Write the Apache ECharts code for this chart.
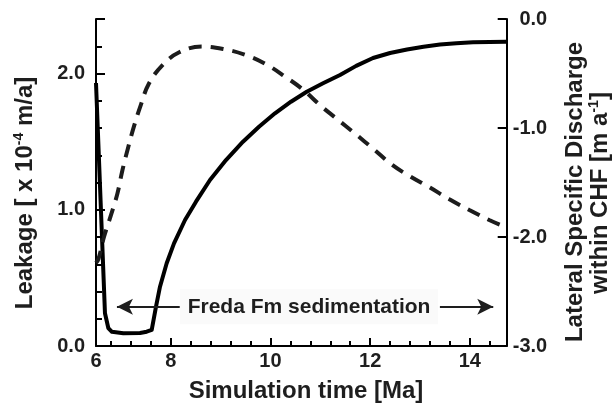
<!DOCTYPE html>
<html>
<head>
<meta charset="utf-8">
<script src="https://cdn.jsdelivr.net/npm/echarts@6/dist/echarts.min.js"></script>
<style>
  html, body { margin: 0; padding: 0; background: #ffffff; }
  #chart { width: 613px; height: 403px; }
</style>
</head>
<body>
<div id="chart"></div>
<script>
// Leakage through the aquitard (left axis, x 10^-4 m/a), dashed curve
const leakageTime = [6.5, 6.55, 6.66, 6.8, 6.93, 7.03, 7.14, 7.26, 7.4, 7.56, 7.83, 8.17, 8.62,
  9.05, 9.49, 9.92, 10.31, 10.66, 11.0, 11.33, 11.7, 12.06, 12.43, 12.8, 13.2, 13.59, 14.0, 14.4, 14.74];
const leakage = [0.61, 0.64, 0.80, 0.96, 1.12, 1.29, 1.45, 1.61, 1.77, 1.925, 2.06, 2.156, 2.198,
  2.18, 2.137, 2.066, 1.973, 1.88, 1.766, 1.668, 1.558, 1.448, 1.333, 1.245, 1.163, 1.077, 0.996, 0.923, 0.87];

// Lateral specific discharge within the CHF (right axis, m/a), solid curve
const dischargeTime = [6.5, 6.68, 6.747, 6.82, 7.048, 7.383, 7.517, 7.618, 7.704, 7.784, 7.918, 8.065,
  8.286, 8.506, 8.787, 9.108, 9.449, 9.77, 10.091, 10.412, 10.728, 11.055, 11.396, 11.72, 12.058, 12.4, 12.74,
  13.07, 13.402, 13.73, 14.064, 14.4, 14.726];
const discharge = [-0.587, -2.70, -2.835, -2.87, -2.884, -2.881, -2.869, -2.853, -2.639, -2.456, -2.241, -2.058,
  -1.844, -1.676, -1.477, -1.294, -1.126, -0.988, -0.865, -0.759, -0.667, -0.59, -0.514, -0.43, -0.358, -0.312, -0.28,
  -0.254, -0.234, -0.222, -0.214, -0.21, -0.208];

// Axis ranges, labels and minor tick positions
const xRange = [6.5, 14.74];
const xLabelValues = [6.5, 8, 10, 12, 14];
const xTickLabels = ['6', '8', '10', '12', '14'];
const xMinorTicks = [6.8, 7.2, 7.6, 8.4, 8.8, 9.2, 9.6, 10.4, 10.8, 11.2, 11.6, 12.4, 12.8, 13.2, 13.6, 14.4];
const leftLabelValues = [0, 1, 2];
const leftMinorTicks = [0.2, 0.4, 0.6, 0.8, 1.2, 1.4, 1.6, 1.8, 2.2, 2.4];
const leftRange = [0, 2.4];
const rightRange = [-3, 0];

// Sedimentation period annotation (x from/to in Ma, at leakage level)
const sedimentationLabel = 'Freda Fm sedimentation';
const sedimentationArrowY = 0.288;
const leftArrow = [8.18, 6.92];
const rightArrow = [13.4, 14.47];
const labelCenterX = 10.774;

const FONT = '"Liberation Sans", Arial, Helvetica, sans-serif';
const INK = '#1e1e1e';

// plot area in pixels
const GRID = { left: 96, right: 106.3, top: 19, bottom: 57 };
const PLOT_W = 613 - GRID.left - GRID.right;
const PLOT_H = 403 - GRID.top - GRID.bottom;

// minor tick lengths (5 px up from the x axis, 6 px right from the left axis) in data units
const xMinorLen = 5 * (leftRange[1] - leftRange[0]) / PLOT_H;
const yMinorLen = 6 * (xRange[1] - xRange[0]) / PLOT_W;

const chart = echarts.init(document.getElementById('chart'), null, { renderer: 'canvas' });

function zip(xs, ys) { return xs.map((x, i) => [x, ys[i]]); }

const baseAxisText = { fontFamily: FONT, fontWeight: 'bold', fontSize: 20, color: INK };
const tickLine = { color: '#000', width: 2 };
const plainEnd = { symbol: 'none' };

const minorTickLines = []
  .concat(xMinorTicks.map(v => [
    Object.assign({ coord: [v, leftRange[0]] }, plainEnd),
    Object.assign({ coord: [v, leftRange[0] + xMinorLen] }, plainEnd)
  ]))
  .concat(leftMinorTicks.map(v => [
    Object.assign({ coord: [xRange[0], v] }, plainEnd),
    Object.assign({ coord: [xRange[0] + yMinorLen, v] }, plainEnd)
  ]));

const arrowLines = [
  [{ coord: [leftArrow[0], sedimentationArrowY], symbol: 'none' },
   { coord: [leftArrow[1], sedimentationArrowY], symbol: 'arrow', symbolSize: [12, 16] }],
  [{ coord: [rightArrow[0], sedimentationArrowY], symbol: 'none' },
   { coord: [rightArrow[1], sedimentationArrowY], symbol: 'arrow', symbolSize: [12, 16] }]
];

const option = {
  animation: false,
  backgroundColor: '#ffffff',
  grid: Object.assign({ containLabel: false, outerBoundsMode: 'none' }, GRID),
  xAxis: {
    type: 'value', min: xRange[0], max: xRange[1], position: 'bottom',
    axisLine: { show: true, onZero: false, lineStyle: { color: '#000', width: 2 } },
    axisTick: { show: true, inside: true, length: 8, lineStyle: tickLine },
    axisLabel: Object.assign({
      margin: 5, customValues: xLabelValues,
      formatter: (v) => { const i = xLabelValues.findIndex(t => Math.abs(t - v) < 1e-6); return i >= 0 ? xTickLabels[i] : ''; }
    }, baseAxisText),
    splitLine: { show: false }
  },
  yAxis: [
    {
      type: 'value', min: leftRange[0], max: leftRange[1], interval: 1, position: 'left',
      axisLine: { show: true, onZero: false, lineStyle: { color: '#000', width: 2 } },
      axisTick: { show: true, inside: true, length: 9, lineStyle: tickLine },
      axisLabel: Object.assign({ margin: 11, customValues: leftLabelValues, formatter: (v) => v.toFixed(1) }, baseAxisText),
      splitLine: { show: false }
    },
    {
      type: 'value', min: rightRange[0], max: rightRange[1], interval: 1, position: 'right',
      axisLine: { show: true, onZero: false, lineStyle: { color: '#000', width: 2 } },
      axisTick: { show: true, inside: true, length: 9, lineStyle: tickLine },
      axisLabel: Object.assign({ margin: 40.5, align: 'right', formatter: (v) => v.toFixed(1) }, baseAxisText),
      splitLine: { show: false }
    }
  ],
  series: [
    {
      name: 'Leakage', type: 'line', xAxisIndex: 0, yAxisIndex: 0,
      data: zip(leakageTime, leakage),
      showSymbol: false, smooth: 0.4, silent: true, z: 3,
      lineStyle: { color: '#1c1c1c', width: 4, type: [13, 9], cap: 'butt' },
      markLine: {
        silent: true, animation: false, symbol: ['none', 'none'],
        lineStyle: { color: INK, width: 2, type: 'solid' },
        label: { show: false },
        emphasis: { disabled: true },
        data: arrowLines
      },
      markPoint: {
        silent: true, animation: false,
        symbol: 'rect', symbolSize: [258, 35],
        itemStyle: { color: '#fafafa' },
        label: { show: true, position: 'inside', formatter: sedimentationLabel,
          fontFamily: FONT, fontWeight: 'bold', fontSize: 21, color: INK },
        data: [{ coord: [labelCenterX, sedimentationArrowY] }]
      }
    },
    {
      // carries the minor axis ticks, drawn in the left/bottom axis coordinates
      name: 'minor ticks', type: 'line', xAxisIndex: 0, yAxisIndex: 0,
      data: [], silent: true, z: 4,
      markLine: {
        silent: true, animation: false, symbol: ['none', 'none'],
        lineStyle: { color: '#000', width: 2, type: 'solid' },
        label: { show: false },
        emphasis: { disabled: true },
        data: minorTickLines
      }
    },
    {
      name: 'Lateral specific discharge', type: 'line', xAxisIndex: 0, yAxisIndex: 1,
      data: zip(dischargeTime, discharge),
      showSymbol: false, smooth: false, silent: true, z: 2,
      lineStyle: { color: '#000', width: 4, join: 'round' }
    }
  ],
  graphic: [
    {
      type: 'text', x: 306, y: 391,
      style: { text: 'Simulation time [Ma]', font: 'bold 24px ' + FONT, fill: INK, align: 'center', verticalAlign: 'middle' }
    },
    {
      type: 'text', x: 25, y: 193, rotation: Math.PI / 2,
      style: {
        text: '{a|Leakage [ x 10}{s|-4}{a| m/a]}', align: 'center', verticalAlign: 'middle', fill: INK,
        rich: {
          a: { fontFamily: FONT, fontWeight: 'bold', fontSize: 24, fill: INK, lineHeight: 26 },
          s: { fontFamily: FONT, fontWeight: 'bold', fontSize: 14, fill: INK, verticalAlign: 'top', lineHeight: 26, padding: [0, 0, 8, 0] }
        }
      }
    },
    {
      type: 'text', x: 575, y: 192, rotation: Math.PI / 2,
      style: { text: 'Lateral Specific Discharge', font: 'bold 24px ' + FONT, fill: INK, align: 'center', verticalAlign: 'middle' }
    },
    {
      type: 'text', x: 600, y: 193, rotation: Math.PI / 2,
      style: {
        text: '{a|within CHF [m a}{s|-1}{a|]}', align: 'center', verticalAlign: 'middle', fill: INK,
        rich: {
          a: { fontFamily: FONT, fontWeight: 'bold', fontSize: 24, fill: INK, lineHeight: 26 },
          s: { fontFamily: FONT, fontWeight: 'bold', fontSize: 14, fill: INK, verticalAlign: 'top', lineHeight: 26, padding: [0, 0, 8, 0] }
        }
      }
    }
  ]
};

chart.setOption(option);
</script>
</body>
</html>
